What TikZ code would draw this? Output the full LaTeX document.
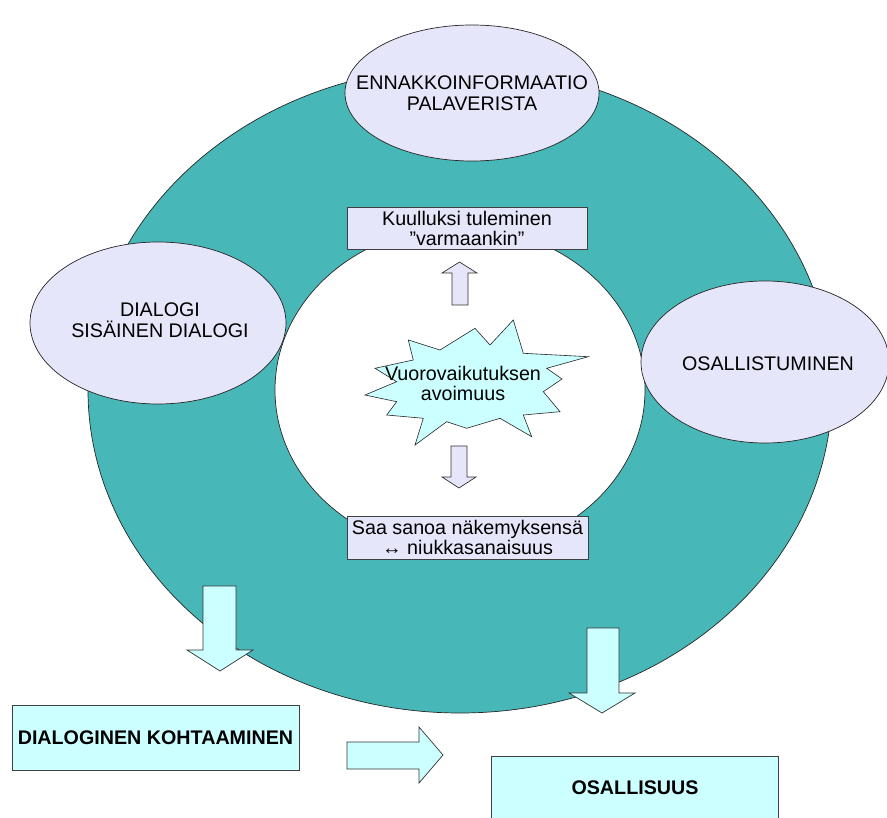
\documentclass[tikz,border=0pt]{standalone}
\usepackage{fontspec}
\setmainfont{Liberation Sans}
\usetikzlibrary{shapes.geometric}
\definecolor{teal1}{HTML}{47B7B8}
\definecolor{lav}{HTML}{E6E6FA}
\definecolor{cyanl}{HTML}{CCFFFF}
\tikzset{
  x=1pt,y=-1pt,
  outl/.style={draw=black!85,line width=0.7pt},
  ell/.style={ellipse,outl,fill=lav,inner sep=0pt},
  etext/.style={align=center,inner sep=0pt,font=\fontsize{19.7}{21}\selectfont},
  lbox/.style={rectangle,draw=black!75,line width=0.8pt,fill=lav,inner sep=0pt,align=center,
    font=\fontsize{19.7}{20}\selectfont},
  cbox/.style={rectangle,draw=black!75,line width=0.8pt,fill=cyanl,inner sep=0pt,align=center,
    font=\bfseries\fontsize{19.7}{21}\selectfont},
  barrow/.style={draw=black!80,line width=0.7pt,fill=cyanl},
  sarrow/.style={draw=black!80,line width=0.7pt,fill=lav},
}
\begin{document}
\begin{tikzpicture}
\useasboundingbox (0,0) rectangle (887,818);
% ring
\node[ellipse,outl,fill=teal1,minimum width=744pt,minimum height=646pt,inner sep=0pt] (ring) at (460,390) {};
\node[ellipse,outl,fill=white,minimum width=370pt,minimum height=326pt,inner sep=0pt] (hole) at (460,390) {};
% outer ellipses
\node[ell,minimum width=254pt,minimum height=136pt] (top) at (472,93) {};
\node[etext] (toptext) at (top) {ENNAKKOINFORMAATIO\\PALAVERISTA};
\node[ell,minimum width=256pt,minimum height=162pt] (left) at (158,323) {};
\node[etext] (lefttext) at (160,320) {DIALOGI\\SISÄINEN DIALOGI};
\node[ell,minimum width=248pt,minimum height=162pt] (right) at (765,362) {};
\node[etext] (righttext) at (768,364) {OSALLISTUMINEN};
% small boxes
\node[lbox,minimum width=240pt,minimum height=42pt] (kuul) at (467,228) {Kuulluksi tuleminen\\”varmaankin”};
\node[lbox,minimum width=241pt,minimum height=43pt] (saa) at (467.5,537.5) {Saa sanoa näkemyksensä\\↔ niukkasanaisuus};
% starburst
\draw[outl,line width=0.6pt,fill=cyanl] (513.3,320) -- (523.3,353.3) -- (588.3,356.7) -- (546.7,368.3) -- (562,379) -- (543.3,391.7) -- (560,411.7) -- (523.3,415) -- (531.7,436.7) -- (500,418.3) -- (466.7,428.3) -- (446.7,421.7) -- (415,445) -- (423.3,418.3) -- (386.7,415) -- (396.7,401.7) -- (365,395) -- (396.7,381.7) -- (375,368.3) -- (413.3,360) -- (408.3,340) -- (440,350) -- (475,328.3) -- (490,345) -- cycle;
\node[align=center,inner sep=0pt,font=\fontsize{19.7}{20}\selectfont] (star) at (463,383) {Vuorovaikutuksen\\avoimuus};
% small arrows
\draw[sarrow] (452,305) -- (452,273) -- (442,273) -- (459.5,262) -- (477,273) -- (468,273) -- (468,305) -- cycle;
\draw[sarrow] (451,446) -- (467,446) -- (467,477) -- (476,477) -- (459,488) -- (442,477) -- (451,477) -- cycle;
% big arrows
\draw[barrow] (203,586) -- (236,586) -- (236,650) -- (253,650) -- (220,671) -- (187,650) -- (203,650) -- cycle;
\draw[barrow] (587,628) -- (619,628) -- (619,693) -- (635,693) -- (602,713) -- (569,693) -- (587,693) -- cycle;
\draw[barrow] (347,742) -- (419,742) -- (419,727) -- (443,755) -- (419,783) -- (419,769) -- (347,769) -- cycle;
% bottom boxes
\node[cbox,minimum width=287pt,minimum height=65pt] (dial) at (155.5,737.5) {DIALOGINEN KOHTAAMINEN};
\node[cbox,minimum width=287pt,minimum height=74pt] (osal) at (634.5,793) {};
\node[font=\bfseries\fontsize{19.7}{21}\selectfont,inner sep=0pt] (osalt) at (635,788) {OSALLISUUS};
\end{tikzpicture}
\end{document}
